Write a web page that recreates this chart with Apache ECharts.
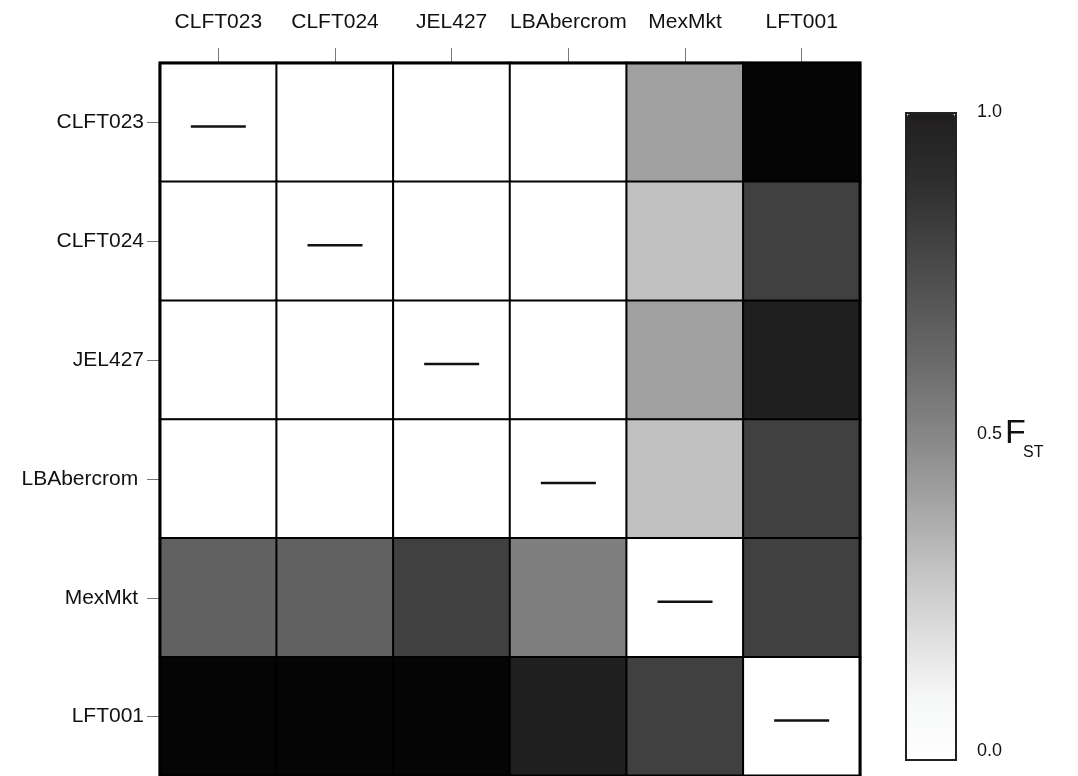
<!DOCTYPE html>
<html>
<head>
<meta charset="utf-8">
<script src="https://cdn.jsdelivr.net/npm/echarts@6/dist/echarts.min.js"></script>
<style>
  html, body { margin: 0; padding: 0; background: #fff; }
  #chart { width: 1078px; height: 776px; }
</style>
</head>
<body>
<div id="chart"></div>
<script>
// population names (columns on top, rows on the left)
const colNames = ['CLFT023', 'CLFT024', 'JEL427', 'LBAbercrom', 'MexMkt', 'LFT001']
const rowNames = ['CLFT023', 'CLFT024', 'JEL427', 'LBAbercrom ', 'MexMkt ', 'LFT001']

// pairwise FST, one array per row (diagonal = 0, drawn as a dash)
const rowCLFT023 = [0, 0, 0, 0, 0.41, 1.0]
const rowCLFT024 = [0, 0, 0, 0, 0.30, 0.81]
const rowJEL427 = [0, 0, 0, 0, 0.41, 0.93]
const rowLBAbercrom = [0, 0, 0, 0, 0.30, 0.81]
const rowMexMkt = [0.66, 0.66, 0.81, 0.53, 0, 0.81]
const rowLFT001 = [1.0, 1.0, 1.0, 0.93, 0.81, 0]

const rows = [rowCLFT023, rowCLFT024, rowJEL427, rowLBAbercrom, rowMexMkt, rowLFT001]

// colour bar tick labels
const barTicks = ['0.0', '0.5', '1.0']

const cells = []
rows.forEach((r, yi) => r.forEach((v, xi) => cells.push([xi, yi, v])))

// grey ramps, 0 -> 1 in steps of 0.1
const barRamp = ['#ffffff', '#f5f6f6', '#dcdcdc', '#c1c1c1', '#a3a3a3', '#878787',
  '#6e6e6e', '#585858', '#424242', '#2e2d2d', '#201e1e']
const cellRamp = barRamp.slice(0, 10).concat(['#050505'])
cellRamp[9] = '#2a2a2a'

const font = "'Liberation Sans', Arial, sans-serif"
const chart = echarts.init(document.getElementById('chart'))

chart.setOption({
  backgroundColor: '#fff',
  animation: false,
  grid: {
    left: 160, top: 63, width: 700, height: 717,
    show: true, z: 10, backgroundColor: 'transparent',
    borderColor: '#000', borderWidth: 3
  },
  xAxis: {
    type: 'category',
    position: 'top',
    data: colNames,
    axisLine: { show: false },
    axisTick: { show: true, interval: 0, alignWithLabel: true, length: 15, lineStyle: { color: '#777', width: 1 } },
    axisLabel: { interval: 0, color: '#111', fontSize: 21, fontFamily: font, margin: 30 },
    splitLine: { show: false }
  },
  yAxis: {
    type: 'category',
    inverse: true,
    data: rowNames,
    axisLine: { show: false },
    axisTick: { show: true, interval: 0, alignWithLabel: true, length: 13, lineStyle: { color: '#777', width: 1 } },
    axisLabel: { interval: 0, color: '#111', fontSize: 21, fontFamily: font, margin: 16 },
    splitLine: { show: false }
  },
  visualMap: [
    {
      // cells
      show: false,
      seriesIndex: 0,
      min: 0,
      max: 1,
      dimension: 2,
      inRange: { color: cellRamp }
    },
    {
      // colour bar on the right
      type: 'continuous',
      seriesIndex: 1,
      min: 0,
      max: 1,
      left: 905,
      top: 112,
      itemWidth: 48,
      itemHeight: 645,
      padding: 1,
      text: null,
      calculable: false,
      hoverLink: false,
      borderColor: '#222',
      borderWidth: 2,
      inRange: { color: barRamp }
    }
  ],
  series: [
    {
      type: 'heatmap',
      data: cells,
      itemStyle: { borderColor: '#000', borderWidth: 2 },
      label: {
        show: true,
        formatter: p => (p.data[0] === p.data[1] ? '{d|}' : ''),
        offset: [0, 4],
        rich: { d: { width: 55, height: 2.5, backgroundColor: '#111' } }
      },
      emphasis: { disabled: true }
    },
    { type: 'scatter', data: [], silent: true }
  ],
  graphic: [
    { type: 'text', left: 977, top: 103, style: { text: barTicks[2], font: '18px ' + font, fill: '#111' } },
    { type: 'text', left: 977, top: 425, style: { text: barTicks[1], font: '18px ' + font, fill: '#111' } },
    { type: 'text', left: 977, top: 742, style: { text: barTicks[0], font: '18px ' + font, fill: '#111' } },
    { type: 'text', left: 1005, top: 417, style: { text: 'F', font: '34px ' + font, fill: '#111' } },
    { type: 'text', left: 1023, top: 445, style: { text: 'ST', font: '16px ' + font, fill: '#111' } }
  ]
})
</script>
</body>
</html>
